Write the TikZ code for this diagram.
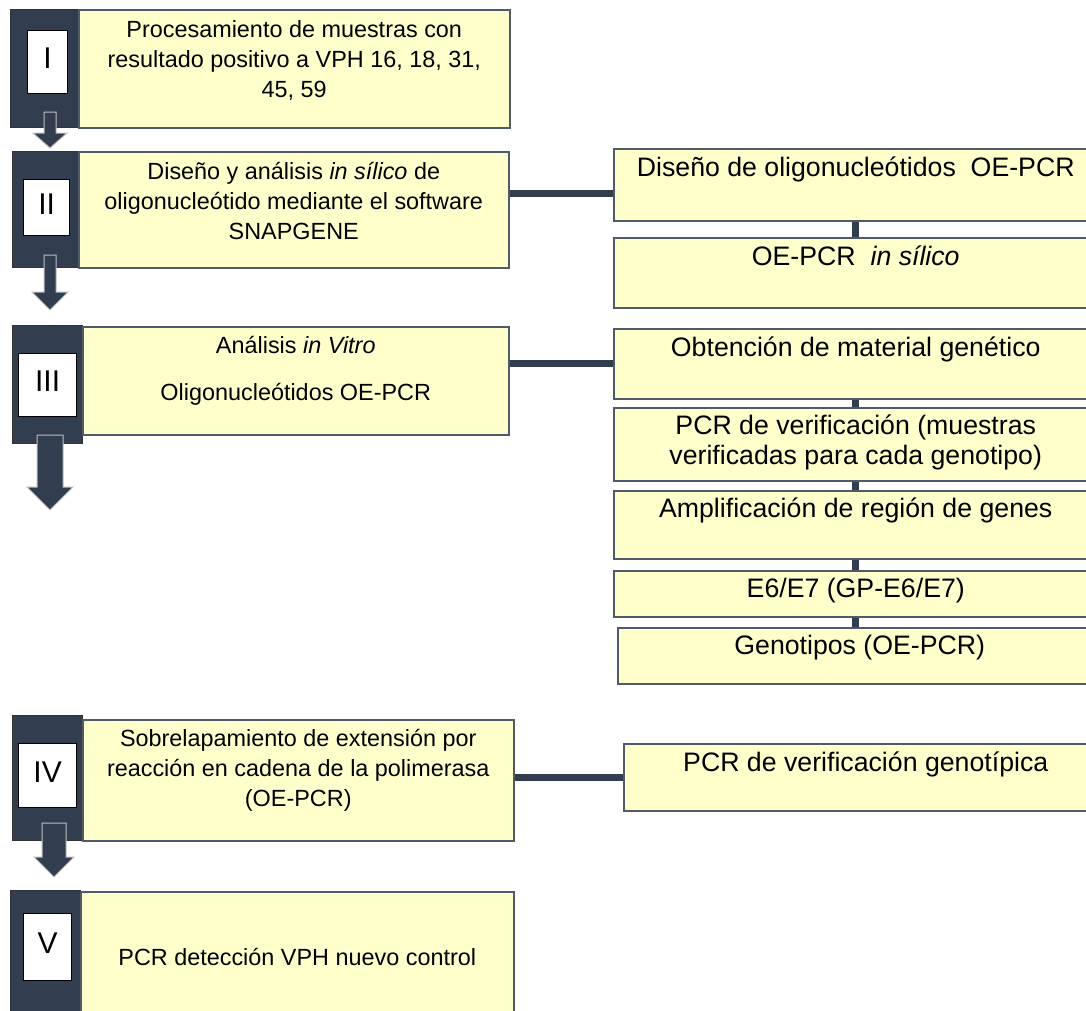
\documentclass[tikz,border=0pt]{standalone}
\usepackage{fontspec}
\setmainfont{Liberation Sans}
\usetikzlibrary{positioning}

\definecolor{panelblue}{RGB}{50,62,79}
\definecolor{boxyellow}{RGB}{255,255,204}
\definecolor{boxedge}{RGB}{80,90,105}

% x, top, shaft half, shaft end, head half, tip
\newcommand{\stagearrow}[6]{%
  \draw[blockarrow] (#1-#3,#2) -- (#1+#3,#2) -- (#1+#3,#4) -- (#1+#5,#4)
    -- (#1,#6) -- (#1-#5,#4) -- (#1-#3,#4) -- cycle;}

\begin{document}
\begin{tikzpicture}[x=1pt, y=-1pt,
    panel/.style={draw=black!80, fill=panelblue, anchor=north west, inner sep=0pt},
    stagebox/.style={draw=boxedge, line width=1.5pt, fill=boxyellow,
      anchor=north west, inner sep=0pt},
    numbox/.style={draw=black, line width=1.2pt, fill=white, anchor=north west,
      inner sep=0pt, font=\fontsize{30}{32}\selectfont,
      text height=21.5pt, text depth=8pt},
    stagetext/.style={anchor=north, inner sep=0pt, align=center,
      font=\fontsize{23.4}{30}\selectfont},
    subbox/.style={draw=boxedge, line width=1.5pt, fill=boxyellow,
      minimum width=484pt, inner sep=0pt},
    subtext/.style={anchor=north, inner sep=0pt, align=center,
      font=\fontsize{26.7}{30}\selectfont},
    link/.style={draw=panelblue, line width=7pt},
    blockarrow/.style={fill=panelblue, draw=black!25, line width=1pt}
  ]
  \useasboundingbox (0,0) rectangle (1086,1010);
  \clip (0,0) rectangle (1086,1010);

  % stages
  \node[panel, minimum width=68pt, minimum height=118pt] (p1) at (10,9) {};
  \node[stagebox, minimum width=431pt, minimum height=118pt] (s1) at (78,9) {};
  \node[panel, minimum width=66pt, minimum height=116pt] (p2) at (12,151) {};
  \node[stagebox, minimum width=430pt, minimum height=116pt] (s2) at (78,151) {};
  \node[panel, minimum width=70pt, minimum height=118pt] (p3) at (12,325) {};
  \node[stagebox, minimum width=426pt, minimum height=108pt] (s3) at (82,326) {};
  \node[panel, minimum width=70pt, minimum height=125pt] (p4) at (12,715) {};
  \node[stagebox, minimum width=431pt, minimum height=121pt] (s4) at (82,719) {};
  \node[panel, minimum width=70pt, minimum height=140pt] (p5) at (10,890) {};
  \node[stagebox, minimum width=433pt, minimum height=139pt] (s5) at (80,891) {};

  \node[numbox, minimum width=40pt, minimum height=63pt] (n1) at (27,30) {I};
  \node[numbox, minimum width=46pt, minimum height=56pt] (n2) at (23,179) {II};
  \node[numbox, minimum width=58pt, minimum height=63pt] (n3) at (18,353) {III};
  \node[numbox, minimum width=58pt, minimum height=64pt] (n4) at (18,743) {IV};
  \node[numbox, minimum width=48pt, minimum height=67pt] (n5) at (23,913) {V};

  \node[stagetext] (t1) at ([yshift=-11pt]s1.north)
    {Procesamiento de muestras con\\resultado positivo a VPH 16, 18, 31,\\45, 59};
  \node[stagetext] (t2) at ([yshift=-11pt]s2.north)
    {Diseño y análisis \textit{in sílico} de\\oligonucleótido mediante el software\\SNAPGENE};
  \node[stagetext] (t3) at ([yshift=-10pt]s3.north)
    {Análisis \textit{in Vitro}\\[17pt]Oligonucleótidos OE-PCR};
  \node[stagetext] (t4) at ([yshift=-10pt]s4.north)
    {Sobrelapamiento de extensión por\\reacción en cadena de la polimerasa\\(OE-PCR)};
  \node[stagetext] (t5) at ([yshift=-57pt]s5.north) {PCR detección VPH nuevo control};

  \stagearrow{50}{112}{6}{133}{17}{148}
  \stagearrow{50}{255}{6}{292}{18}{310}
  \stagearrow{50}{435}{13}{487}{23}{510}
  \stagearrow{54}{823}{12}{857}{20}{877}

  % sub steps
  \node[subbox, minimum height=72pt, anchor=north west] (ra) at (613,148) {};
  \node[subbox, minimum height=70pt, below=15.5pt of ra] (rb) {};
  \node[subbox, minimum height=70pt, anchor=north west] (rc) at (613,328) {};
  \node[subbox, minimum height=73pt, below=7.5pt of rc] (rd) {};
  \node[subbox, minimum height=68pt, below=8.5pt of rd] (re) {};
  \node[subbox, minimum height=46pt, below=10.5pt of re] (rf) {};
  \node[subbox, minimum height=56pt, below=9.5pt of rf, xshift=4pt] (rg) {};
  \node[subbox, minimum height=67pt, anchor=north west] (rh) at (623,743) {};

  \node[subtext] (ta) at ([yshift=-9pt]ra.north) {Diseño de oligonucleótidos\ \ OE-PCR};
  \node[subtext] (tb) at ([yshift=-9pt]rb.north) {OE-PCR\ \ \textit{in sílico}};
  \node[subtext] (tc) at ([yshift=-9pt]rc.north) {Obtención de material genético};
  \node[subtext] (td) at ([yshift=-8pt]rd.north)
    {PCR de verificación (muestras\\verificadas para cada genotipo)};
  \node[subtext] (te) at ([yshift=-8pt]re.north) {Amplificación de región de genes};
  \node[subtext] (tf) at ([yshift=-8pt]rf.north) {E6/E7 (GP-E6/E7)};
  \node[subtext] (tg) at ([yshift=-8pt]rg.north) {Genotipos (OE-PCR)};
  \node[subtext] (th) at ([yshift=-9pt]rh.north) {PCR de verificación genotípica};

  % Connect the nodes
  \coordinate (j2) at ([yshift=-9pt]ra.west);
  \draw[link] (s2.east |- j2) -- (j2);
  \draw[link] (s3.east |- rc.west) -- (rc.west);
  \draw[link] (s4.east |- rh.west) -- (rh.west);
  \draw[link] (ra.south) -- (rb.north);
  \draw[link] (rc.south) -- (rd.north);
  \draw[link] (rd.south) -- (re.north);
  \draw[link] (re.south) -- (rf.north);
  \draw[link] (rf.south) -- (rf.south |- rg.north);

\end{tikzpicture}
\end{document}
